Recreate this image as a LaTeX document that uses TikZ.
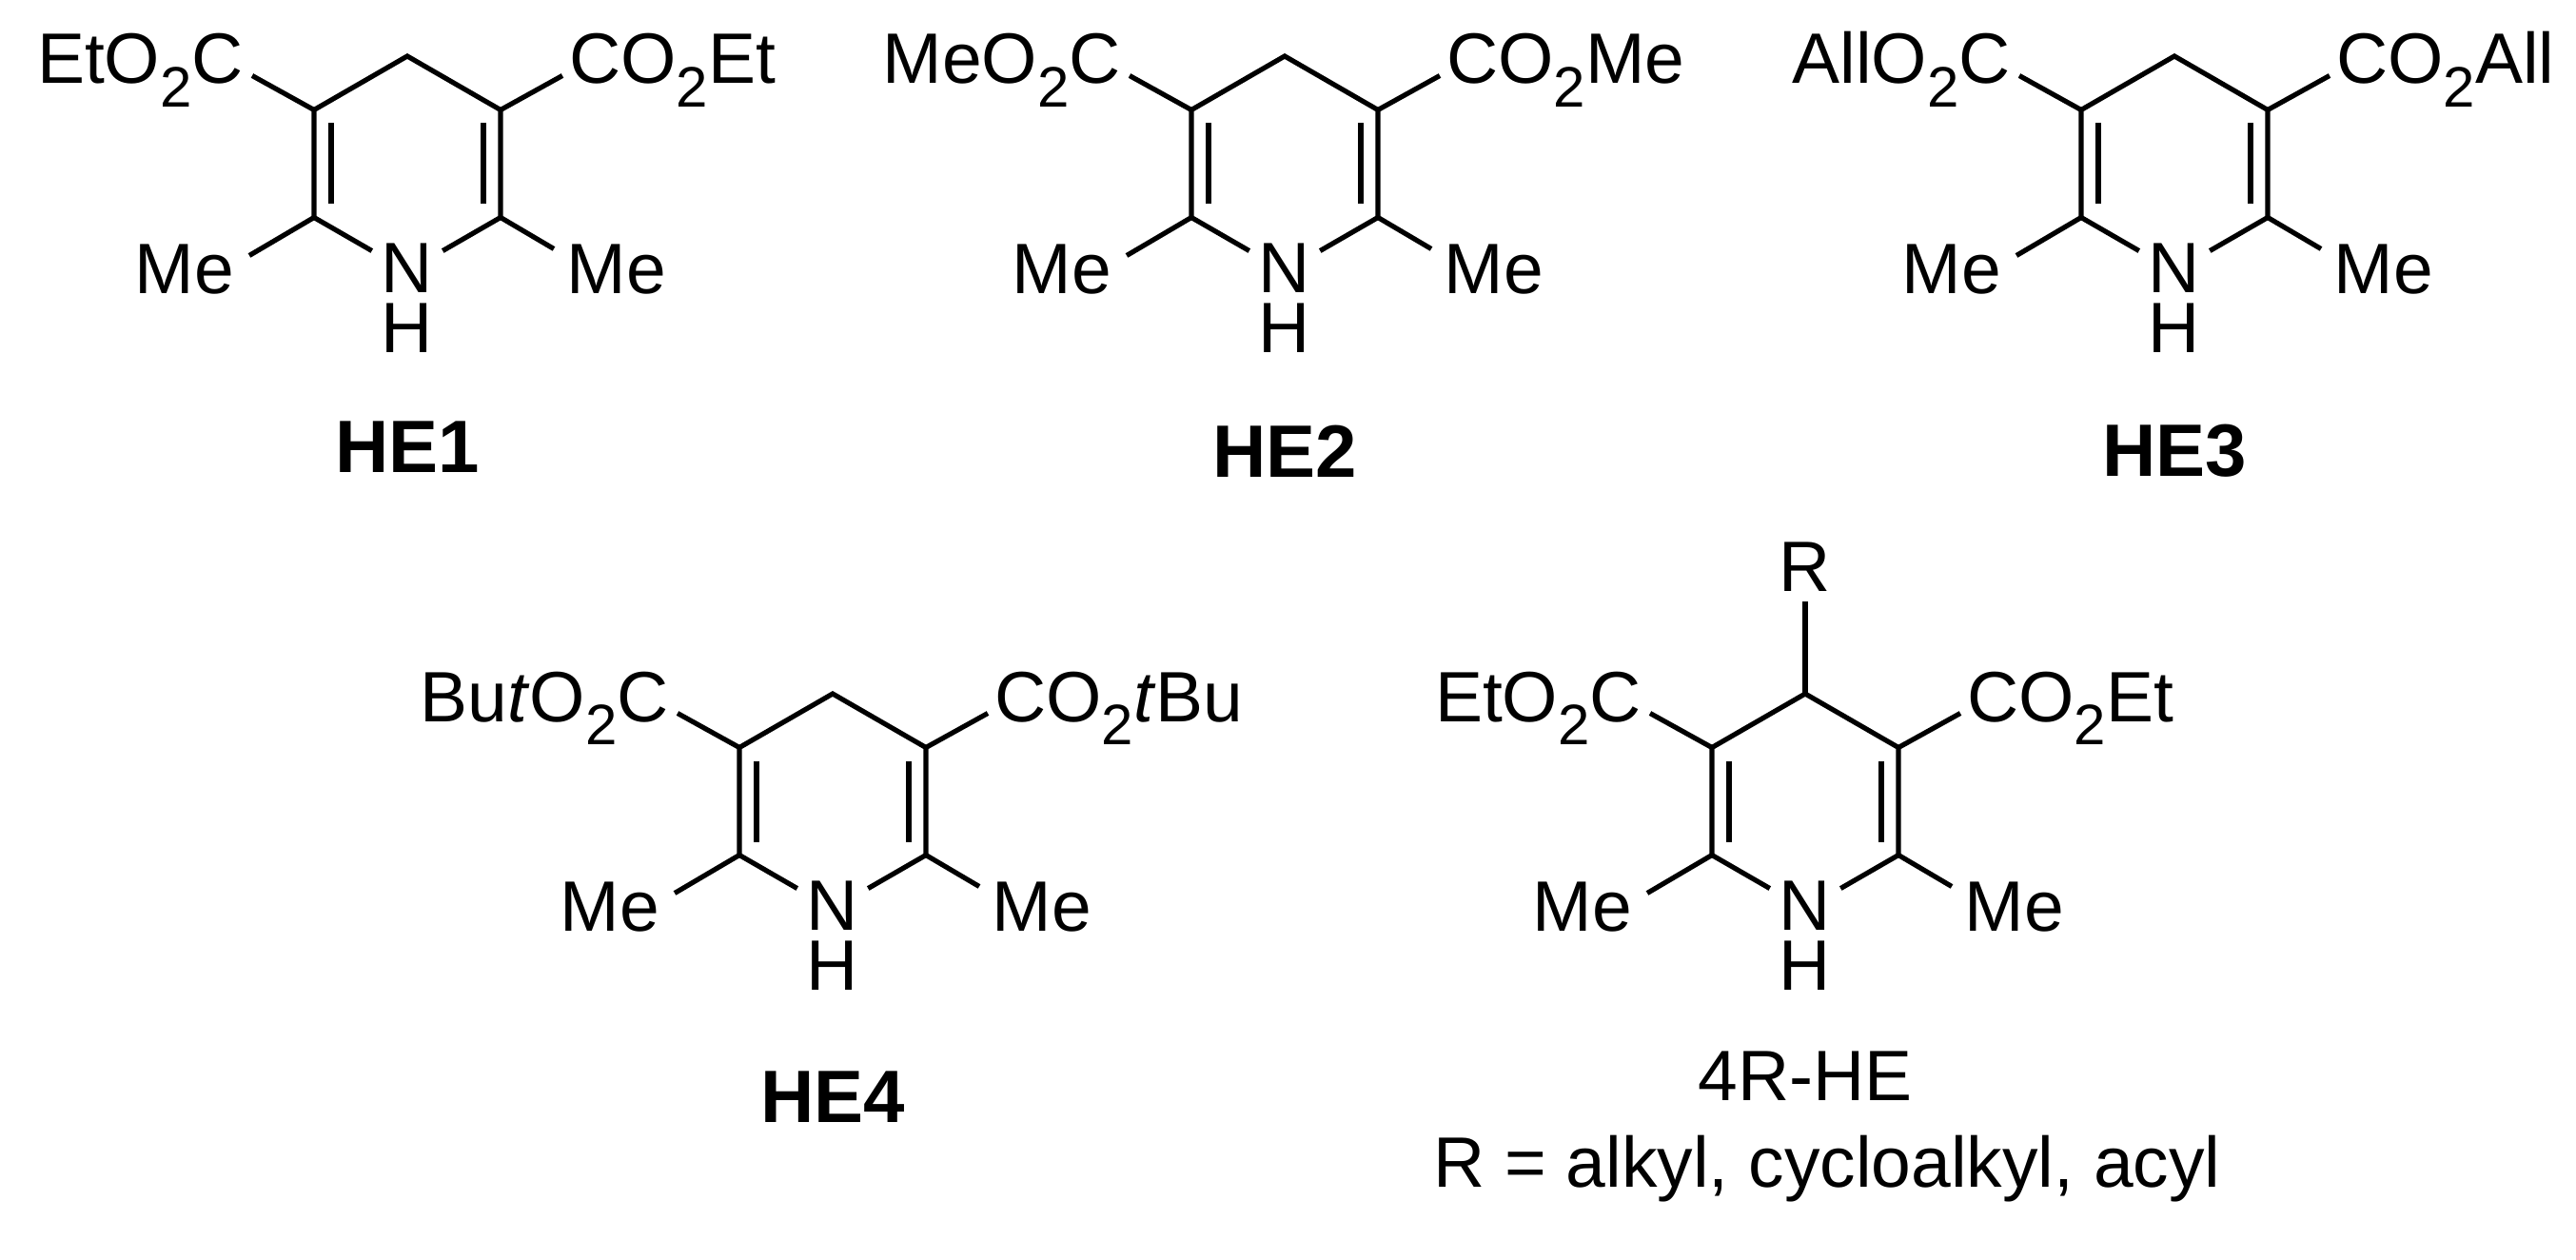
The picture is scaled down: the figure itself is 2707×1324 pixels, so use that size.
\documentclass[tikz,border=0pt]{standalone}
\usepackage{fontspec}
\setmainfont{Liberation Sans}
\newcommand\sbs[1]{\raisebox{-0.33em}{\fontsize{60}{60}\selectfont #1}}
\newcommand\hemol[5]{%
  % #1 prefix, #2 cx, #3 y0, #4 left label, #5 right label
  \coordinate (#1c4) at (#2,-#3);
  \coordinate (#1c3) at ($(#1c4)+(-98,-56.5)$);
  \coordinate (#1c2) at ($(#1c4)+(-98,-169.5)$);
  \coordinate (#1n)  at ($(#1c4)+(0,-226)$);
  \coordinate (#1c6) at ($(#1c4)+(98,-169.5)$);
  \coordinate (#1c5) at ($(#1c4)+(98,-56.5)$);
  \draw[bond] (#1c2) -- (#1c3) -- (#1c4) -- (#1c5) -- (#1c6);
  \draw[bond] ($(#1c3)+(18,-14)$) -- ($(#1c2)+(18,14)$);
  \draw[bond] ($(#1c5)+(-18,-14)$) -- ($(#1c6)+(-18,14)$);
  \draw[bond] (#1c2) -- ($(#1c2)!0.62!(#1n)$);
  \draw[bond] (#1c6) -- ($(#1c6)!0.62!(#1n)$);
  \draw[bond] (#1c2) -- ++(-68,-40);
  \draw[bond] (#1c6) -- ++(56,-33);
  \draw[bond] (#1c3) -- ++(-65,36);
  \draw[bond] (#1c5) -- ++(65,36);
  \node[lbl] (#1N) at ($(#1c4)+(0,-245)$) {N};
  \node[lbl] (#1H) at ($(#1c4)+(0,-308)$) {H};
  \node[lbl] (#1MeL) at ($(#1c4)+(-234,-246)$) {Me};
  \node[lbl] (#1MeR) at ($(#1c4)+(220,-246)$) {Me};
  \node[lbl,anchor=base east] (#1L) at ($(#1c4)+(-172,-29)$) {#4};
  \node[lbl,anchor=base west] (#1R) at ($(#1c4)+(170,-29)$) {#5};
}
\usetikzlibrary{calc}
\begin{document}
\begin{tikzpicture}[x=1pt,y=1pt,
  bond/.style={line width=5.2pt,line cap=butt,line join=miter},
  lbl/.style={inner sep=0pt,text height=0.72em,text depth=0pt,font=\fontsize{75}{80}\selectfont},
  cpdname/.style={inner sep=0pt,font=\fontsize{78}{84}\selectfont\bfseries}]
\useasboundingbox (0,0) rectangle (2707,-1324);
\hemol{a}{428}{59}{EtO\sbs{2}C}{CO\sbs{2}Et}
\hemol{b}{1350}{59}{MeO\sbs{2}C}{CO\sbs{2}Me}
\hemol{c}{2285}{59}{AllO\sbs{2}C}{CO\sbs{2}All}
\hemol{d}{875}{729}{Bu\textit{t}O\sbs{2}C}{CO\sbs{2}\textit{t}Bu}
\hemol{e}{1897}{729}{EtO\sbs{2}C}{CO\sbs{2}Et}
\node[cpdname] (HE1) at (428,-470) {HE1};
\node[cpdname] (HE2) at (1350,-474) {HE2};
\node[cpdname] (HE3) at (2285,-474) {HE3};
\node[cpdname] (HE4) at (875,-1153) {HE4};
\node[lbl] (Rl) at (1897,-618) {R};
\draw[bond] (ec4) -- ([yshift=-10pt]Rl.south);
\node[lbl] (HE5) at (1897,-1153) {4R-HE};
\node[lbl] (Rdef) at (1920,-1244) {R = alkyl, cycloalkyl, acyl};
\end{tikzpicture}
\end{document}
